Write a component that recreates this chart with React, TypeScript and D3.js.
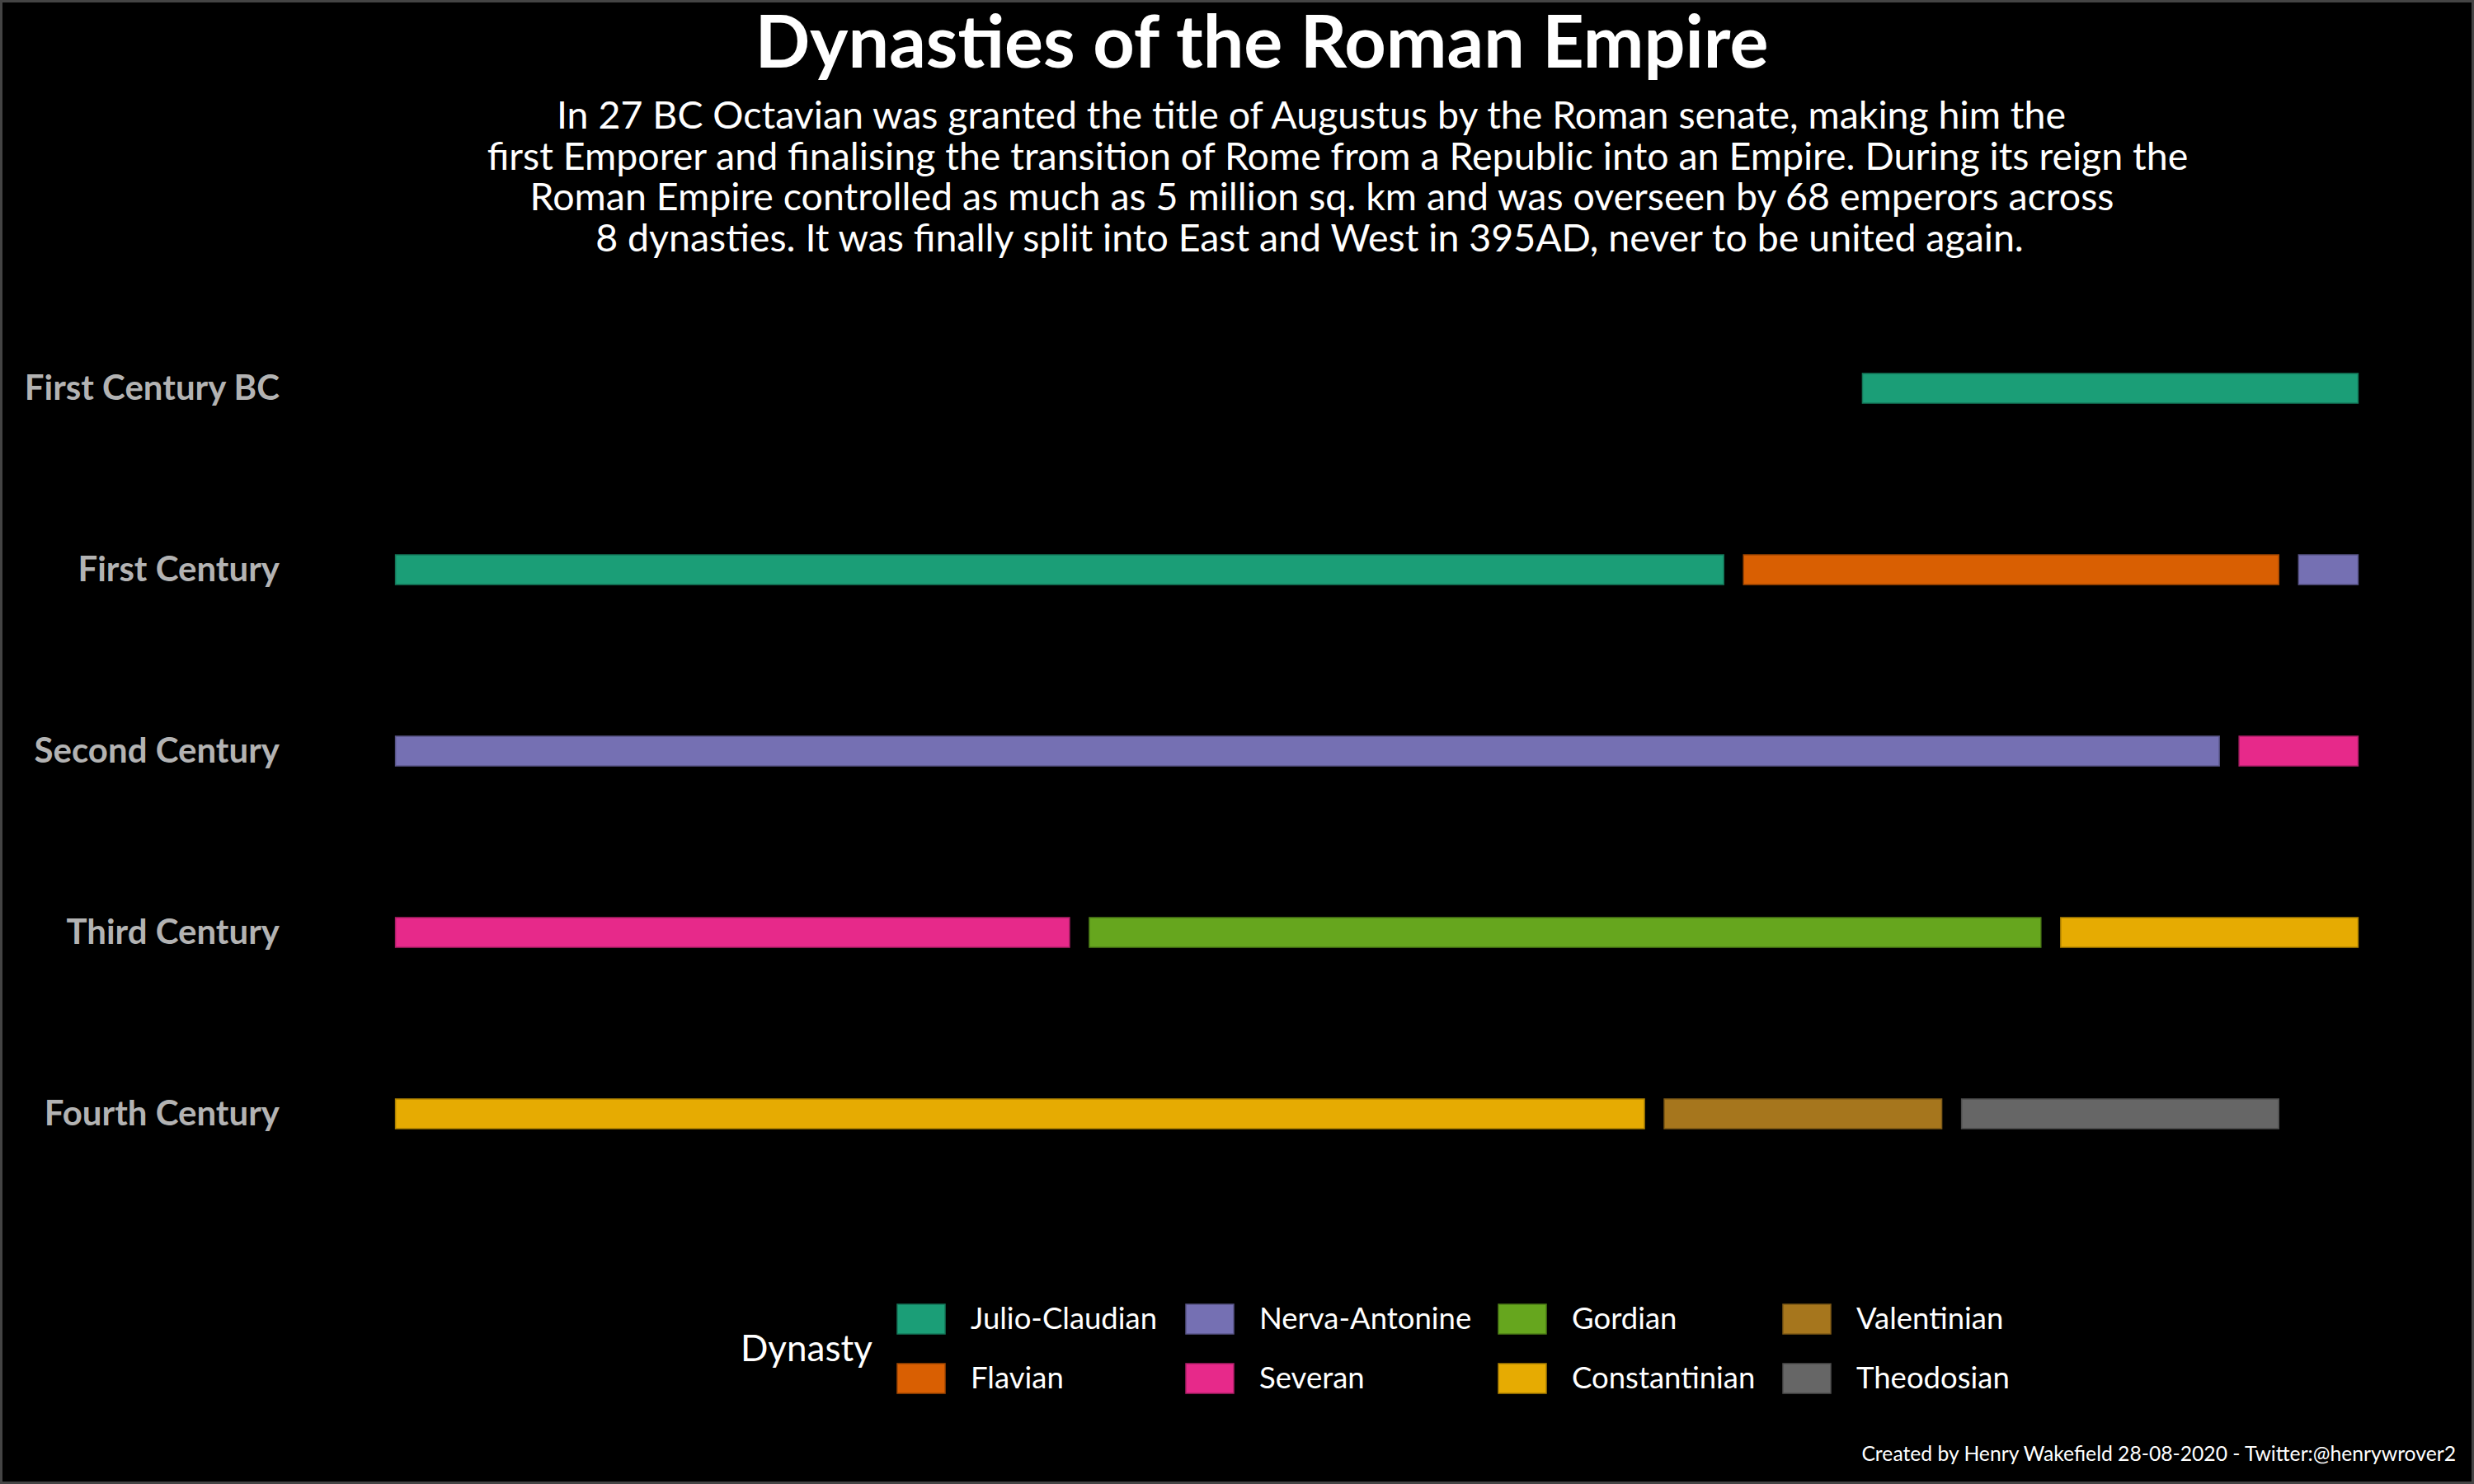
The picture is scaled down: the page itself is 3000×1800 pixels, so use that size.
import React from "react";
import * as d3 from "d3";

// rows (one per century) and dynasties in legend order
const centuries = [
  "First Century BC",
  "First Century",
  "Second Century",
  "Third Century",
  "Fourth Century"
];
const dynasties = [
  "Julio-Claudian",
  "Flavian",
  "Nerva-Antonine",
  "Severan",
  "Gordian",
  "Constantinian",
  "Valentinian",
  "Theodosian"
];

// one entry per bar: century row, dynasty, first / last year within the century
const segCentury = [0, 1, 1, 1, 2, 2, 3, 3, 3, 4, 4, 4];
const segDynasty = [0, 0, 1, 2, 2, 3, 3, 4, 5, 5, 6, 7];
const segStart = [75, 1, 69, 97, 1, 94, 1, 36, 85, 1, 65, 80];
const segEnd = [100, 68, 96, 100, 93, 100, 35, 84, 100, 64, 79, 96];

const title = "Dynasties of the Roman Empire";
const subtitle = [
  "In 27 BC Octavian was granted the title of Augustus by the Roman senate, making him the",
  "first Emporer and finalising the transition of Rome from a Republic into an Empire. During its reign the",
  "Roman Empire controlled as much as 5 million sq. km and was overseen by 68 emperors across",
  "8 dynasties. It was finally split into East and West in 395AD, never to be united again."
];
const caption = "Created by Henry Wakefield 28-08-2020 - Twitter:@henrywrover2";

const W = 3000;
const H = 1800;
const FONT = "Lato, 'Open Sans', sans-serif";

// subtitle line centres (the original lines aren't quite centred alike)
const subCentres = [1590, 1622, 1603, 1588];
const legendCols = [1088, 1438, 1817, 2162];
const legendRows = [1582, 1654];

export default function App() {
  const x = d3.scaleLinear().domain([1, 100]).range([479.6, 2859.4]);
  const y = d3.scalePoint().domain(centuries).range([471, 1351]);
  const colour = d3.scaleOrdinal<string>().domain(dynasties).range(d3.schemeDark2);
  const barH = 36;

  const segments = segCentury.map((c, i) => ({
    century: centuries[c],
    dynasty: dynasties[segDynasty[i]],
    start: segStart[i],
    end: segEnd[i]
  }));

  return (
    <svg
      width={W}
      height={H}
      style={{ position: "absolute", left: 0, top: 0, fontFamily: FONT }}
    >
      <rect x={1.5} y={1.5} width={W - 3} height={H - 3} fill="#000" stroke="#444" strokeWidth={3} />

      <text x={1530} y={82} textAnchor="middle" fill="#fff" fontSize={88} fontWeight="bold">
        {title}
      </text>
      {subtitle.map((line, i) => (
        <text key={i} x={subCentres[i]} y={156 + i * 49.7} textAnchor="middle" fill="#fff" fontSize={46.5}>
          {line}
        </text>
      ))}

      {/* y axis labels */}
      {centuries.map(c => (
        <text
          key={c}
          x={339}
          y={(y(c) as number) + 14}
          textAnchor="end"
          fill="#b3b3b3"
          fontSize={42}
          fontWeight="bold"
        >
          {c}
        </text>
      ))}

      {/* bars */}
      {segments.map((s, i) => (
        <rect
          key={i}
          x={x(s.start)}
          y={(y(s.century) as number) - barH / 2}
          width={x(s.end) - x(s.start)}
          height={barH}
          fill={colour(s.dynasty)}
          stroke={d3.color(colour(s.dynasty))!.darker(0.8).formatHex()}
          strokeWidth={1.5}
        />
      ))}

      {/* legend */}
      <text x={898} y={1651} fill="#fff" fontSize={44}>
        Dynasty
      </text>
      {dynasties.map((d, i) => {
        const kx = legendCols[Math.floor(i / 2)];
        const ky = legendRows[i % 2];
        return (
          <g key={d}>
            <rect
              x={kx}
              y={ky}
              width={58}
              height={barH}
              fill={colour(d)}
              stroke={d3.color(colour(d))!.darker(0.8).formatHex()}
              strokeWidth={1.5}
            />
            <text x={kx + 89} y={ky + barH / 2 + 12} fill="#fff" fontSize={36.5}>
              {d}
            </text>
          </g>
        );
      })}

      <text x={2978} y={1772} textAnchor="end" fill="#fff" fontSize={24.7}>
        {caption}
      </text>
    </svg>
  );
}
